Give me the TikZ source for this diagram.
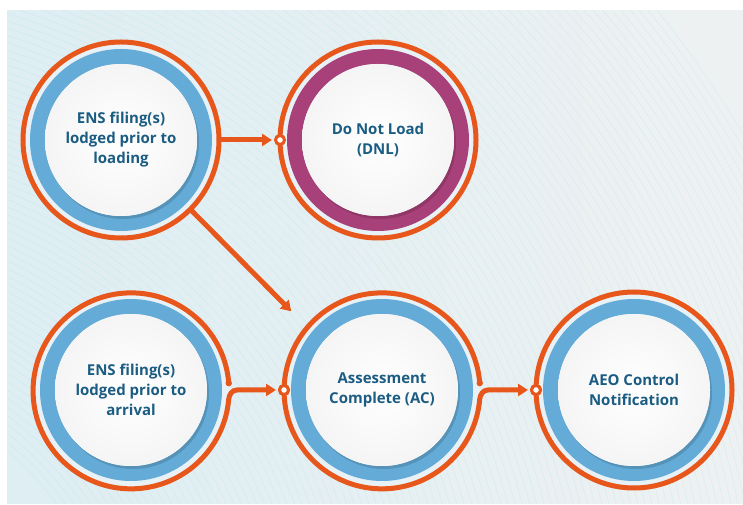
\documentclass[tikz,border=0pt]{standalone}
\usepackage{fontspec}
\setmainfont{Open Sans}
\usepackage{tikz}
\usetikzlibrary{arrows.meta,calc}
\definecolor{linkorange}{RGB}{231,86,27}
\definecolor{ringblue}{RGB}{100,171,215}
\definecolor{ringpurple}{RGB}{168,64,122}
\definecolor{ringgap}{RGB}{232,242,246}
\definecolor{labelblue}{RGB}{27,92,130}
\definecolor{panelblue}{RGB}{222,238,242}
\definecolor{panelgrey}{RGB}{238,241,241}

\begin{document}
\begin{tikzpicture}[x=1pt,y=1pt,
    stage/.style={circle,draw=linkorange,line width=5pt,minimum size=196pt,
      inner sep=0pt,outer sep=0pt,fill=ringgap,align=center,text=labelblue,
      font=\bfseries\fontsize{15}{20}\selectfont,
      path picture={
        \fill[#1] (path picture bounding box.center) circle (91pt);
        \fill[#1!60!black,opacity=.35] ([shift={(2pt,-3pt)}]path picture bounding box.center) circle (76pt);
        \fill[inner color=white,outer color=black!4] (path picture bounding box.center) circle (76pt);
      }},
    stage/.default=ringblue,
    flow/.style={draw=linkorange,line width=5pt,-{Triangle[length=10pt,width=12pt]},shorten >=2pt},
    port/.style={circle,draw=linkorange,line width=3pt,fill=white,minimum size=9pt,inner sep=0pt},
    bgline/.style={cyan!35!white,line width=.5pt,opacity=.3}]
  \useasboundingbox (0,0) rectangle (743,505);
  \fill[left color=panelblue,right color=panelgrey] (7,1) rectangle (743,494);
  % faint wave lines of the panel
  \begin{scope}
    \clip (7,1) rectangle (743,494);
    \foreach \r in {320,327,...,1100}
      \draw[bgline] (-200,-190) circle (\r);
  \end{scope}

  % stages
  \node[stage] (loading) at (121,365) {ENS filing(s)\\lodged prior to\\loading};
  \node[stage=ringpurple] (dnl) at (378,365) {Do Not Load\\(DNL)};
  \node[stage,draw=none] (arrival) at (131,115) {ENS filing(s)\\lodged prior to\\arrival};
  \node[stage,draw=none] (ac) at (382,115) {Assessment\\Complete (AC)};
  \node[stage] (aeo) at (634,115) {AEO Control\\Notification};

  \node[port] (dnlport) at (dnl.west) {};
  \node[port] (acport) at (ac.west) {};
  \node[port] (aeoport) at (aeo.west) {};
  \coordinate (acin) at ([shift={(-20,8)}]ac.135);

  % connectors
  \draw[flow] (loading.east) -- (dnlport.west);
  \draw[flow] (loading.-45) -- (acin);
  \draw[flow] (arrival.4.5) arc[start angle=4.5,end angle=355,radius=98]
    to[out=85,in=180] ($(arrival.east)+(8,0)$) -- (acport.west);
  \fill[linkorange] (arrival.4.5) circle (3.2);
  \draw[flow] (ac.4.5) arc[start angle=4.5,end angle=355,radius=98]
    to[out=85,in=180] ($(ac.east)+(8,0)$) -- (aeoport.west);
  \fill[linkorange] (ac.4.5) circle (3.2);
  \node[port] at (acport) {};
  \node[port] at (aeoport) {};
\end{tikzpicture}
\end{document}
